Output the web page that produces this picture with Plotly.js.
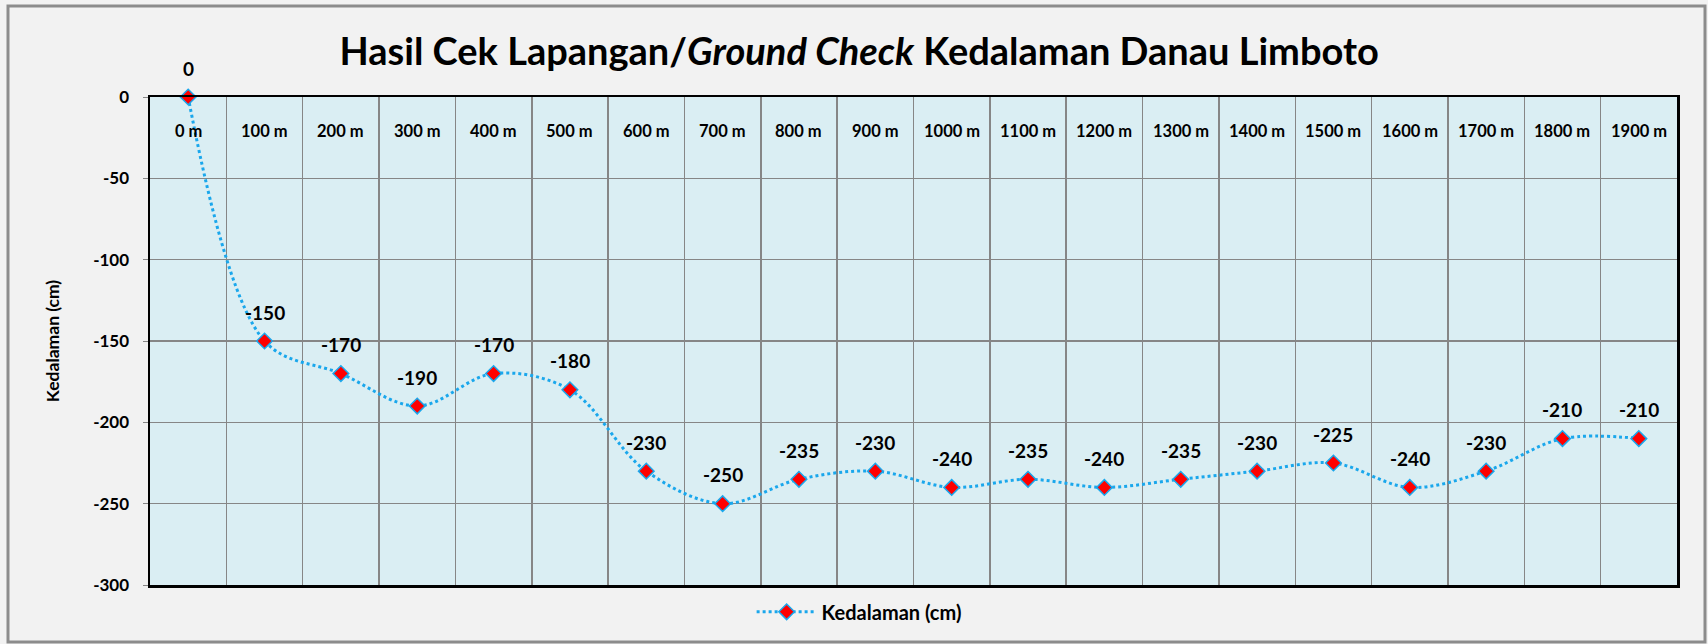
<!DOCTYPE html>
<html>
<head>
<meta charset="utf-8">
<script src="https://cdn.plot.ly/plotly-3.0.1.min.js"></script>
<style>
  html, body { margin: 0; padding: 0; background: #F2F2F2; }
  #chart { width: 1708px; height: 644px; }
</style>
</head>
<body>
<div id="chart"></div>
<script>
const categories = ["0 m","100 m","200 m","300 m","400 m","500 m","600 m","700 m","800 m","900 m",
  "1000 m","1100 m","1200 m","1300 m","1400 m","1500 m","1600 m","1700 m","1800 m","1900 m"];
const depth = [0, -150, -170, -190, -170, -180, -230, -250, -235, -230,
  -240, -235, -240, -235, -230, -225, -240, -230, -210, -210];
const seriesName = "Kedalaman (cm)";
const yTicks = [0, -50, -100, -150, -200, -250, -300];
const yTickText = ["0", "-50", "-100", "-150", "-200", "-250", "-300"];

const FONT = "Lato, 'Open Sans', sans-serif";

const trace = {
  x: categories,
  y: depth,
  type: "scatter",
  mode: "lines+markers",
  name: "<b>" + seriesName + "</b>",
  line: { color: "#1AA7EC", width: 3, dash: "dot", shape: "spline", smoothing: 1 },
  marker: { symbol: "diamond", size: 12, color: "#FF0000", line: { color: "#1AA7EC", width: 1.5 } },
  cliponaxis: false,
  hoverinfo: "x+y"
};

const labelAnn = categories.map((c, i) => ({
  x: c, y: depth[i], xref: "x", yref: "y",
  text: "<b>" + String(depth[i]) + "</b>", showarrow: false, yshift: 29,
  font: { family: FONT, size: 19, color: "#000" }
}));

const catAnn = categories.map((c) => ({
  x: c, y: 1, xref: "x", yref: "paper", yanchor: "middle",
  text: "<b>" + c + "</b>", showarrow: false, yshift: -34,
  font: { family: FONT, size: 16.5, color: "#000" }
}));

const layout = {
  width: 1708, height: 644,
  paper_bgcolor: "#F2F2F2",
  plot_bgcolor: "#DAEEF3",
  margin: { l: 150, r: 31, t: 97, b: 59, autoexpand: false },
  title: {
    text: "<b>Hasil Cek Lapangan/<i>Ground Check</i> Kedalaman Danau Limboto</b>",
    font: { family: FONT, size: 38, color: "#000" },
    x: 0.503, xanchor: "center", y: 0.92, yanchor: "middle"
  },
  xaxis: {
    type: "category",
    range: [-0.5, 19.5],
    tickson: "boundaries",
    showticklabels: false,
    ticks: "",
    showgrid: true, gridcolor: "#868686", gridwidth: 1.5,
    showline: true, linecolor: "#000", linewidth: 2.5, mirror: true,
    zeroline: false, fixedrange: true
  },
  yaxis: {
    range: [-300, 0],
    tickvals: yTicks,
    ticktext: yTickText,
    ticks: "outside", ticklen: 5, tickcolor: "#868686", tickwidth: 1,
    ticklabelstandoff: 10,
    tickfont: { family: FONT, size: 17, color: "#000", weight: "bold" },
    showgrid: true, gridcolor: "#868686", gridwidth: 1.5,
    showline: true, linecolor: "#000", linewidth: 2.5, mirror: true,
    zeroline: false, fixedrange: true,
    title: { text: "<b>Kedalaman (cm)</b>", font: { family: FONT, size: 17.5, color: "#000" }, standoff: 29 }
  },
  showlegend: true,
  legend: {
    orientation: "h",
    xref: "container", x: 0.503, xanchor: "center",
    yref: "container", y: 0.05, yanchor: "middle",
    bgcolor: "rgba(0,0,0,0)", itemwidth: 60,
    font: { family: FONT, size: 20, color: "#000", weight: "bold" }
  },
  annotations: labelAnn.concat(catAnn),
  shapes: [{
    type: "rect", xref: "paper", yref: "paper",
    x0: (8 - 150) / 1527, x1: (1705 - 150) / 1527,
    y0: (585 - 642) / 488, y1: (585 - 6) / 488,
    line: { color: "#8C8C8C", width: 3 }, fillcolor: "rgba(0,0,0,0)", layer: "below"
  }]
};

Plotly.newPlot("chart", [trace], layout, { displayModeBar: false, staticPlot: true });
</script>
</body>
</html>
